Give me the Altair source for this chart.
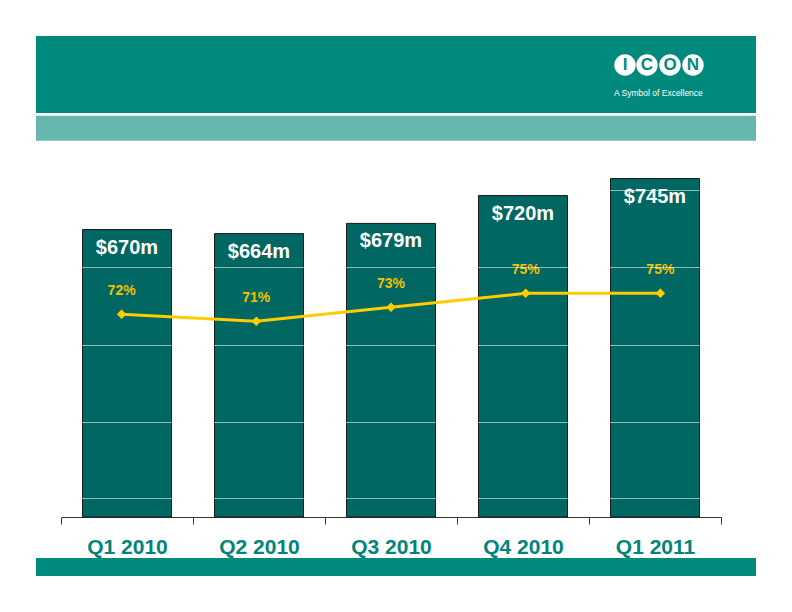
import altair as alt
import pandas as pd

quarters = ["Q1 2010", "Q2 2010", "Q3 2010", "Q4 2010", "Q1 2011"]
revenue = [670, 664, 679, 720, 745]
margin = [72, 71, 73, 75, 75]
gridlines = [275, 387, 500, 615, 728]
logo_letters = ["I", "C", "O", "N"]
tagline = ["A Symbol of Excellence"]

df = pd.DataFrame({
    "quarter": quarters,
    "revenue": revenue,
    "rev_label": [f"${v}m" for v in revenue],
    "margin": margin,
    "m_label": [f"{m}%" for m in margin],
})

FONT = "Liberation Sans, Arial, sans-serif"
TEAL = "#008A7E"
LIGHT = "#66B8AF"
BAR = "#006762"
YEL = "#FFCC00"

x_band = alt.X("quarter:N", sort=quarters, title=None,
               scale=alt.Scale(paddingInner=0, paddingOuter=0),
               axis=alt.Axis(labelAngle=0, tickBand="extent", tickSize=7,
                             domainColor="#333333", tickColor="#333333",
                             labelFont=FONT, labelFontSize=21, labelFontWeight="bold",
                             labelColor="#00857A", labelPadding=12))
y_rev = alt.Y("revenue:Q", title=None,
              scale=alt.Scale(domain=[247, 787], zero=False, nice=False),
              axis=alt.Axis(values=gridlines, grid=True, gridColor="#ffffff",
                            gridOpacity=0.55, gridWidth=1, domain=False, ticks=False,
                            labels=False, zindex=1))

bars = alt.Chart(df).mark_bar(color=BAR, stroke="#1a1a1a", strokeWidth=1, size=89).encode(
    x=x_band, y=y_rev, y2=alt.datum(247))

bar_text = alt.Chart(df).mark_text(color="white", font=FONT, fontSize=20,
                                   fontWeight="bold", baseline="middle", dy=18).encode(
    x=x_band, y=y_rev, text="rev_label:N")

bar_layer = alt.layer(bars, bar_text)

x_pt = alt.X("quarter:N", sort=quarters, axis=None,
             scale=alt.Scale(type="point", padding=0.45))
y_pct = alt.Y("margin:Q", axis=None,
              scale=alt.Scale(domain=[43, 95.5], zero=False, nice=False))

line = alt.Chart(df).mark_line(color=YEL, strokeWidth=3).encode(x=x_pt, y=y_pct)
pts = alt.Chart(df).mark_point(shape="diamond", filled=True, color=YEL, size=90,
                               opacity=1).encode(x=x_pt, y=y_pct)
pct_text = alt.Chart(df).mark_text(color="#F2C100", font=FONT, fontSize=14,
                                   fontWeight="bold", dy=-23).encode(
    x=x_pt, y=y_pct, text="m_label:N")

line_layer = alt.layer(line, pts, pct_text)

one = alt.Data(values=[{"a": 1}])
dark_band = alt.Chart(one).mark_rect(color=TEAL).encode(
    x=alt.value(-25), x2=alt.value(695), y=alt.value(-114), y2=alt.value(-37))
light_band = alt.Chart(one).mark_rect(color=LIGHT).encode(
    x=alt.value(-25), x2=alt.value(695), y=alt.value(-34.3), y2=alt.value(-9.3))
bottom_band = alt.Chart(one).mark_rect(color=TEAL).encode(
    x=alt.value(-25), x2=alt.value(695), y=alt.value(408), y2=alt.value(426))

logo_df = pd.DataFrame({"letter": logo_letters, "px": [564, 586, 609, 632]})
circles = alt.Chart(logo_df).mark_point(shape="circle", filled=True, color="white",
                                        size=460, opacity=1).encode(
    x=alt.X("px:Q", scale=None, axis=None), y=alt.value(-85))
letters = alt.Chart(logo_df).mark_text(color=TEAL, font=FONT, fontSize=17,
                                       fontWeight="bold", baseline="middle").encode(
    x=alt.X("px:Q", scale=None, axis=None), y=alt.value(-85), text="letter:N")
tag = alt.Chart(pd.DataFrame({"t": tagline})).mark_text(
    color="white", font=FONT, fontSize=8.5, align="left", baseline="middle").encode(
    x=alt.value(553), y=alt.value(-57.5), text="t:N")

deco = alt.layer(dark_band, light_band, bottom_band, circles, letters, tag)

chart = alt.layer(deco, bar_layer, line_layer).resolve_scale(
    x="independent", y="independent").properties(
    width=660, height=367,
    padding={"left": 28, "top": 28, "right": 20, "bottom": 10},
).configure_view(stroke=None)

chart.save("out.html", embed_options={"renderer": "svg", "actions": False})
